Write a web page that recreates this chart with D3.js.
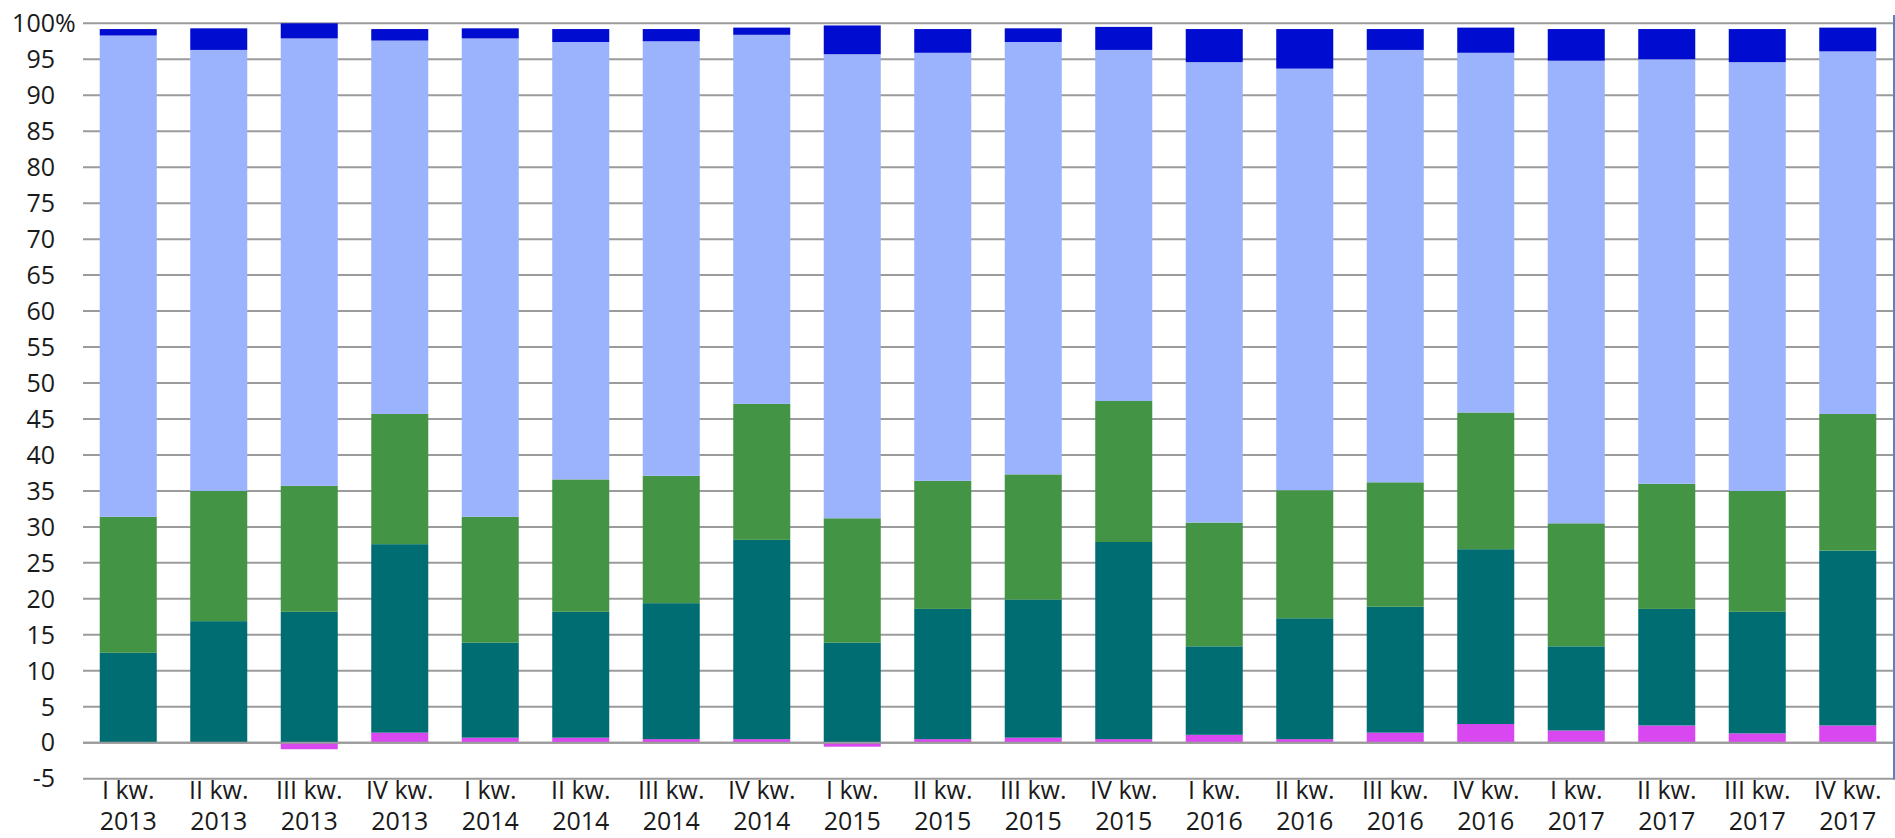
<!DOCTYPE html>
<html>
<head>
<meta charset="utf-8">
<script src="https://cdn.jsdelivr.net/npm/d3@7"></script>
<style>
	html, body { margin: 0; padding: 0; background: #fff; }
	#app { width: 1895px; height: 838px; }
	text { font-family: "Open Sans", sans-serif; fill: #1a1a1a; }
</style>
</head>
<body>
<div id="app"></div>
<script>
// kwartały
const quarters = [
	["I kw.", "2013"], ["II kw.", "2013"], ["III kw.", "2013"], ["IV kw.", "2013"],
	["I kw.", "2014"], ["II kw.", "2014"], ["III kw.", "2014"], ["IV kw.", "2014"],
	["I kw.", "2015"], ["II kw.", "2015"], ["III kw.", "2015"], ["IV kw.", "2015"],
	["I kw.", "2016"], ["II kw.", "2016"], ["III kw.", "2016"], ["IV kw.", "2016"],
	["I kw.", "2017"], ["II kw.", "2017"], ["III kw.", "2017"], ["IV kw.", "2017"]
];

// series, bottom to top (percent shares)
const seriesMagenta = [0.1, 0.1, -0.9, 1.4, 0.7, 0.7, 0.5, 0.5, -0.55, 0.5, 0.7, 0.5, 1.1, 0.5, 1.4, 2.6, 1.7, 2.4, 1.3, 2.4];
const seriesTeal = [12.4, 16.8, 18.2, 26.2, 13.2, 17.5, 18.9, 27.7, 13.9, 18.1, 19.2, 27.4, 12.3, 16.8, 17.5, 24.3, 11.7, 16.2, 16.9, 24.3];
const seriesGreen = [18.9, 18.1, 17.5, 18.1, 17.5, 18.4, 17.7, 18.9, 17.3, 17.8, 17.4, 19.6, 17.2, 17.8, 17.3, 19.0, 17.1, 17.4, 16.8, 19.0];
const seriesLightBlue = [66.9, 61.3, 62.2, 51.9, 66.5, 60.8, 60.4, 51.3, 64.5, 59.5, 60.1, 48.8, 64.0, 58.6, 60.1, 50.0, 64.3, 59.0, 59.6, 50.4];
const seriesDarkBlue = [0.9, 3.0, 2.1, 1.6, 1.4, 1.8, 1.7, 1.0, 4.0, 3.3, 1.9, 3.2, 4.6, 5.5, 2.9, 3.5, 4.4, 4.2, 4.6, 3.3];

const yTicks = [-5, 0, 5, 10, 15, 20, 25, 30, 35, 40, 45, 50, 55, 60, 65, 70, 75, 80, 85, 90, 95, 100];

const config = {
	width: 1895,
	height: 838,
	plot: { left: 83, right: 1893, top: 23.3, bottom: 778.7 },
	color: {
		magenta: "#d847f0",
		teal: "#006d73",
		green: "#439445",
		lightBlue: "#9bb2fc",
		darkBlue: "#000cd0",
		grid: "#9b9b9b",
		border: "#5b82c0"
	}
}

function renderChart() {
	const keys = ["magenta", "teal", "green", "lightBlue", "darkBlue"];
	const rows = quarters.map((q, i) => ({
		label: q,
		magenta: seriesMagenta[i],
		teal: seriesTeal[i],
		green: seriesGreen[i],
		lightBlue: seriesLightBlue[i],
		darkBlue: seriesDarkBlue[i]
	}));

	const svg = d3.select("#app").append("svg")
		.attr("width", config.width)
		.attr("height", config.height)

	const x = d3.scaleBand()
		.domain(rows.map((d, i) => i))
		.range([config.plot.left, config.plot.right])
		.paddingInner(0.37)
		.paddingOuter(0.185)

	const y = d3.scaleLinear()
		.domain([-5, 100])
		.range([config.plot.bottom, config.plot.top])

	// gridlines
	svg.append("g")
		.selectAll("line")
		.data(yTicks)
		.enter()
		.append("line")
		.attr("x1", config.plot.left)
		.attr("x2", config.plot.right)
		.attr("y1", d => y(d))
		.attr("y2", d => y(d))
		.attr("stroke", config.color.grid)
		.attr("stroke-width", 2)

	// y labels
	const yAxis = svg.append("g")
	yAxis.selectAll("text")
		.data(yTicks)
		.enter()
		.append("text")
		.attr("x", 55)
		.attr("y", d => y(d))
		.attr("dy", "0.35em")
		.attr("text-anchor", "end")
		.attr("font-size", 25)
		.text(d => d)
	yAxis.append("text")
		.attr("x", 55)
		.attr("y", y(100))
		.attr("dy", "0.35em")
		.attr("font-size", 25)
		.text("%")

	const stack = d3.stack()
		.keys(keys)
		.offset(d3.stackOffsetDiverging)

	svg.append("g")
		.selectAll("g")
		.data(stack(rows))
		.enter()
		.append("g")
		.attr("fill", d => config.color[d.key])
		.selectAll("rect")
		.data(d => d)
		.enter()
		.append("rect")
		.attr("x", (d, i) => x(i))
		.attr("width", x.bandwidth())
		.attr("y", d => y(Math.max(d[0], d[1])))
		.attr("height", d => Math.abs(y(d[0]) - y(d[1])))

	// zero line on top of bars
	svg.append("line")
		.attr("x1", config.plot.left)
		.attr("x2", config.plot.right)
		.attr("y1", y(0))
		.attr("y2", y(0))
		.attr("stroke", config.color.grid)
		.attr("stroke-width", 2)

	// right frame line
	svg.append("line")
		.attr("x1", config.plot.right + 1)
		.attr("x2", config.plot.right + 1)
		.attr("y1", 15)
		.attr("y2", config.plot.bottom + 1)
		.attr("stroke", config.color.border)
		.attr("stroke-width", 2)

	// x labels
	const xLabels = svg.append("g")
		.selectAll("text")
		.data(rows)
		.enter()
		.append("text")
		.attr("text-anchor", "middle")
		.attr("font-size", 25)

	xLabels.append("tspan")
		.attr("x", (d, i) => x(i) + x.bandwidth() / 2)
		.attr("y", 799)
		.text(d => d.label[0])

	xLabels.append("tspan")
		.attr("x", (d, i) => x(i) + x.bandwidth() / 2)
		.attr("y", 830)
		.text(d => d.label[1])
}

document.addEventListener('DOMContentLoaded', function() {
	renderChart();
});
</script>
</body>
</html>
